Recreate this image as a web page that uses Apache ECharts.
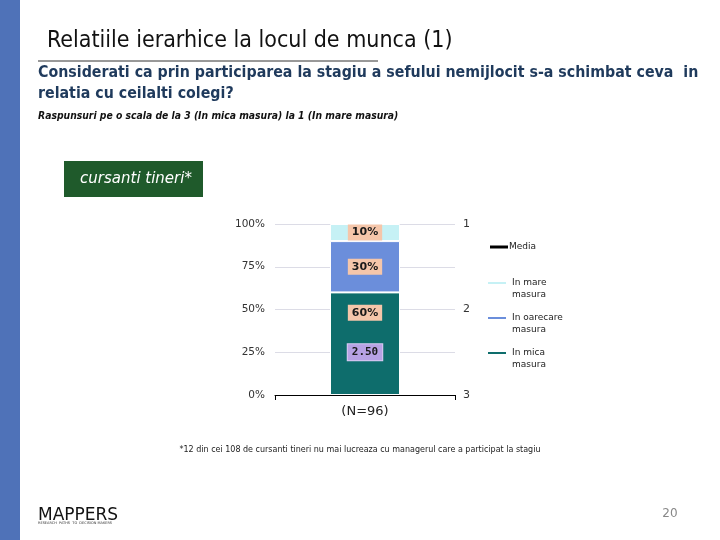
<!DOCTYPE html>
<html><head><meta charset="utf-8">
<script src="https://cdn.jsdelivr.net/npm/echarts@6/dist/echarts.min.js"></script>
<style>html,body{margin:0;padding:0;background:#fff}#c{width:720px;height:540px}</style>
</head><body><div id="c"></div>
<script>
const categories = ['(N=96)'];
const seriesNames = ['In mica masura', 'In oarecare masura', 'In mare masura'];
const micaValues = [60];
const oarecareValues = [30];
const mareValues = [10];
const mediaValues = [2.5];
const leftTicks = ['0%', '25%', '50%', '75%', '100%'];
const rightTicks = ['1', '2', '3'];

const chart = echarts.init(document.getElementById('c'), null, {renderer: 'canvas'});
const pctLabel = {
  show: true, formatter: p => p.value + '%', color: '#1a1a1a', fontWeight: 'bold',
  fontFamily: 'DejaVu Sans', fontSize: 11, backgroundColor: '#f5c6aa', padding: [3, 4, 2, 4]
};
const legendText = {fontFamily: 'DejaVu Sans', fontSize: 9, color: '#222', lineHeight: 12};
chart.setOption({
  animation: false,
  title: [
    {text: 'Relatiile ierarhice la locul de munca (1)', left: 42, top: 25,
     textStyle: {fontFamily: 'DejaVu Sans Condensed', fontWeight: 'normal', fontSize: 23, color: '#111'}},
    {text: 'Considerati ca prin participarea la stagiu a sefului nemijlocit s-a schimbat ceva  in\nrelatia cu ceilalti colegi?', left: 33, top: 57,
     textStyle: {fontFamily: 'DejaVu Sans Condensed', fontWeight: 'bold', fontSize: 15.8, lineHeight: 21, color: '#1f3a5c'}},
    {text: 'Raspunsuri pe o scala de la 3 (In mica masura) la 1 (In mare masura)', left: 33, top: 106,
     textStyle: {fontFamily: 'DejaVu Sans Condensed', fontWeight: 'bold', fontStyle: 'italic', fontSize: 10.3, color: '#111'}},
    {text: '*12 din cei 108 de cursanti tineri nu mai lucreaza cu managerul care a participat la stagiu', left: 'center', top: 441,
     textStyle: {fontFamily: 'DejaVu Sans', fontWeight: 'normal', fontSize: 8, color: '#222'}}
  ],
  graphic: [
    {type: 'rect', shape: {x: 0, y: 0, width: 20, height: 540}, style: {fill: '#4f72b8'}},
    {type: 'line', shape: {x1: 38, y1: 61, x2: 378, y2: 61}, style: {stroke: '#333', lineWidth: 1}},
    {type: 'rect', shape: {x: 64, y: 161, width: 139, height: 36}, style: {fill: '#1f5a2b'}},
    {type: 'text', x: 136, y: 179, style: {text: 'cursanti tineri*', fill: '#fff', font: 'italic 15px "DejaVu Sans"', align: 'center', verticalAlign: 'middle'}},
    {type: 'text', x: 38, y: 507, style: {text: 'MAPPERS', fill: '#111', font: '17px "DejaVu Sans"'}},
    {type: 'text', x: 38, y: 521, style: {text: 'RESEARCH  PATHS  TO  DECISION MAKERS', fill: '#333', font: '3.5px "DejaVu Sans"'}},
    {type: 'text', x: 670, y: 514, style: {text: '20', fill: '#888', font: '12px "DejaVu Sans"', align: 'center', verticalAlign: 'middle'}}
  ],
  legend: [
    {orient: 'vertical', left: 485, top: 236, itemWidth: 18, itemHeight: 3, selectedMode: false,
     data: [{name: 'Media', icon: 'rect', itemStyle: {color: '#000'}}], textStyle: Object.assign({}, legendText, {padding: [0, 0, 0, -4]})},
    {orient: 'vertical', left: 481, top: 260, itemGap: -1, itemWidth: 20, itemHeight: 4, icon: 'rect', selectedMode: false,
     data: ['In mare masura', 'In oarecare masura', 'In mica masura'], textStyle: legendText,
     formatter: n => '\n' + n.replace(' masura', '\nmasura')}
  ],
  grid: {left: 275, right: 265, top: 224, bottom: 145},
  xAxis: {
    type: 'category', data: categories,
    axisLine: {lineStyle: {color: '#000'}}, axisTick: {show: true, length: 5, lineStyle: {color: '#000'}},
    axisLabel: {fontFamily: 'DejaVu Sans', fontSize: 13, color: '#222', margin: 10}
  },
  yAxis: [
    {type: 'value', min: 0, max: 100, interval: 25,
     axisLabel: {formatter: v => leftTicks[v / 25], fontFamily: 'DejaVu Sans', fontSize: 10.5, color: '#333', margin: 10},
     splitLine: {lineStyle: {color: '#dcdce6'}}, axisLine: {show: false}, axisTick: {show: false}},
    {type: 'value', min: 1, max: 3, interval: 1, inverse: true, position: 'right',
     axisLabel: {formatter: v => rightTicks[v - 1], fontFamily: 'DejaVu Sans', fontSize: 11, color: '#333', margin: 8},
     splitLine: {show: false}, axisLine: {show: false}, axisTick: {show: false}}
  ],
  series: [
    {name: seriesNames[0], type: 'bar', stack: 's', data: micaValues, barWidth: 70,
     itemStyle: {color: '#0e6d6c', borderColor: '#fff', borderWidth: 1}, label: Object.assign({}, pctLabel, {position: 'inside', offset: [0, -31]})},
    {name: seriesNames[1], type: 'bar', stack: 's', data: oarecareValues,
     itemStyle: {color: '#6b8edb', borderColor: '#fff', borderWidth: 1}, label: Object.assign({}, pctLabel, {position: 'inside'})},
    {name: seriesNames[2], type: 'bar', stack: 's', data: mareValues,
     itemStyle: {color: '#c6f1f5', borderColor: '#fff', borderWidth: 1}, label: Object.assign({}, pctLabel, {position: 'inside'})},
    {name: 'Media', type: 'line', yAxisIndex: 1, data: mediaValues, symbol: 'circle', symbolSize: 0.1,
     itemStyle: {color: '#000'}, lineStyle: {color: '#000'},
     label: {show: true, position: 'inside', formatter: p => p.value.toFixed(2), color: '#1a1a1a', fontWeight: 'bold',
       fontFamily: 'DejaVu Sans Mono', fontSize: 11, backgroundColor: '#b7a2e4', borderColor: '#d8ccf2', borderWidth: 1, padding: [3, 4, 2, 4]}}
  ]
});
</script></body></html>
